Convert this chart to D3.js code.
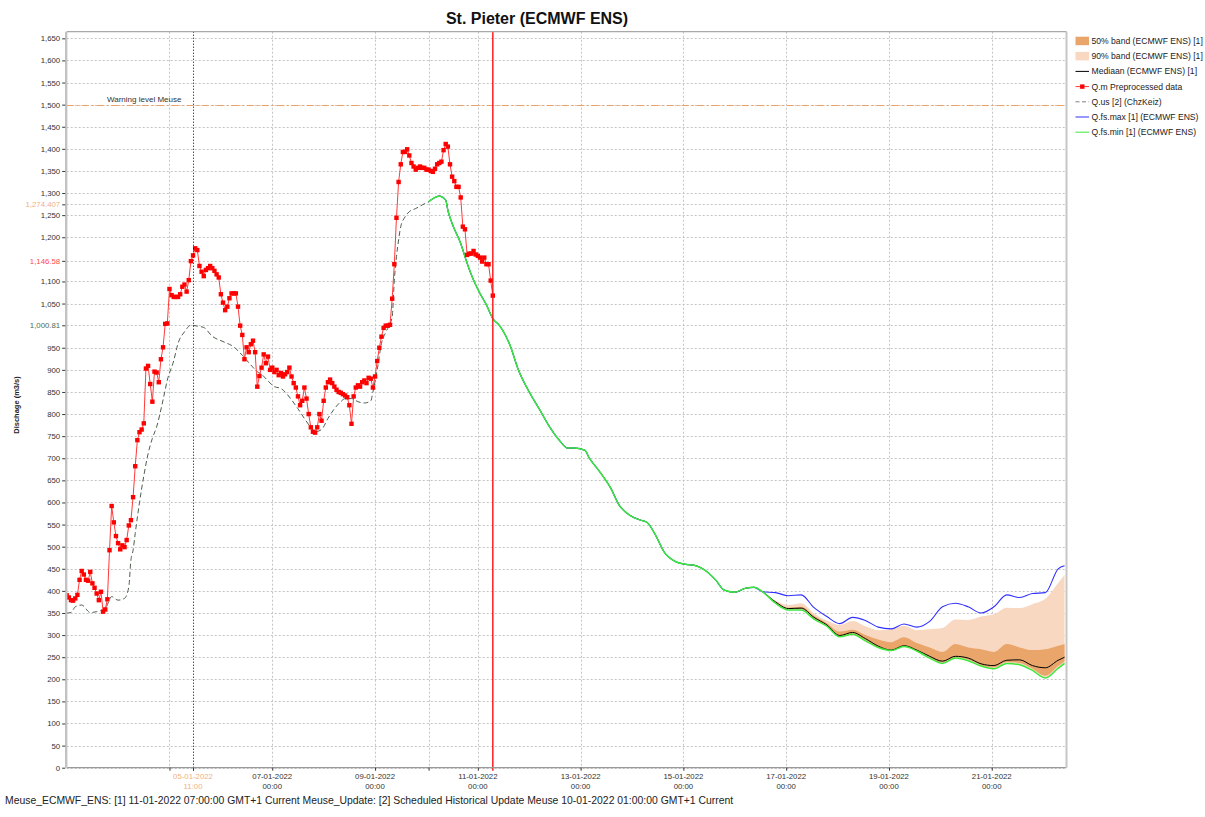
<!DOCTYPE html>
<html>
<head>
    <meta http-equiv="content-type" content="text/html; charset=utf-8"/>
    <title>St. Pieter (ECMWF ENS)</title>
    <style type="text/css">
        body, html {width:100%;height:100%;overflow:hidden;margin:0;background:#fff;}
        svg text {font-family:"Liberation Sans", Arial, sans-serif;}
    </style>
    <script src="https://cdn.jsdelivr.net/npm/d3@7/dist/d3.min.js"></script>
</head>
<body>
<svg id="chart" width="1205" height="817"></svg>
<script>
// weergaveperiode en tijdstippen (GMT+1)
var viewStart = "2022-01-03T00:00";
var viewEnd = "2022-01-22T11:00";
var forecastT0 = "2022-01-11T07:00";
var cursorTime = "2022-01-05T11:00";
var updateTime = "2022-01-10T01:00";

var xTickDates = ["2022-01-05T00:00", "2022-01-07T00:00", "2022-01-09T00:00", "2022-01-11T00:00",
    "2022-01-13T00:00", "2022-01-15T00:00", "2022-01-17T00:00", "2022-01-19T00:00", "2022-01-21T00:00"];
var yTickValues = [0, 50, 100, 150, 200, 250, 300, 350, 400, 450, 500, 550, 600, 650, 700, 750, 800, 850,
    900, 950, 1000, 1050, 1100, 1150, 1200, 1250, 1300, 1350, 1400, 1450, 1500, 1550, 1600, 1650];
var yMarkValues = [1274.407, 1146.58, 1000.81];
var warningLevel = 1500;
var warningLabel = "Warning level Meuse";

// Q.m: uurwaarden vanaf viewStart
var qmValues = [390, 385, 379, 378, 383, 391, 425, 445, 437, 425, 423, 443, 417, 407, 394, 379, 398, 353, 358, 381,
    492, 592, 555, 524, 508, 494, 503, 499, 515, 548, 560, 612, 682, 741, 759,
    765, 779, 903, 909, 868, 828, 896, 894, 872, 924, 951, 1004, 1005, 1083, 1069, 1065, 1065, 1065, 1071, 1088,
    1093, 1077, 1103, 1146, 1159, 1175, 1171, 1135, 1122, 1112, 1126, 1130, 1135, 1130, 1124, 1116, 1109, 1071,
    1052, 1035, 1043, 1062, 1073, 1073, 1073, 1043, 1000, 979, 924, 951, 940, 958, 966, 940, 862, 886,
    905, 935, 915, 930, 900, 905, 895, 900, 888, 893, 885, 890, 895, 905, 885, 870, 860, 840, 820, 830,
    860, 835, 800, 770, 760, 758, 770, 800, 785, 830, 860, 872, 878, 870, 862, 855, 850, 848, 845, 842,
    838, 820, 778, 840, 860, 865, 862, 872, 876, 870, 882, 880, 860, 885, 920, 950, 975, 995, 1000, 1000, 1002,
    1061, 1139, 1244, 1325, 1365, 1393, 1393, 1399, 1385, 1368, 1360, 1353, 1357, 1360, 1357, 1357, 1353, 1353,
    1350, 1348, 1355, 1365, 1368, 1371, 1397, 1411, 1405, 1365, 1337, 1327, 1314, 1314, 1290, 1224, 1218, 1160,
    1163, 1163, 1169, 1161, 1158, 1154, 1145, 1154, 1139, 1139, 1102, 1068];

// Q.us (uren na viewStart)
var qusHours = [0, 2, 4, 7, 11, 14, 18, 21, 24, 27, 29, 30, 31, 32, 34, 36, 38, 40, 42, 45, 47, 50, 52, 55, 58,
    61, 64, 68, 73, 78, 82, 86, 89, 91, 94, 97, 100, 102, 105, 108, 111, 114, 116, 119, 122, 125, 128, 130, 133,
    136, 139, 142, 143, 145, 147, 149, 152, 153, 154, 155, 156, 158, 160, 163, 166, 169];
var qusValues = [350, 351, 364, 368, 351, 353, 360, 387, 379, 383, 409, 470, 492, 530, 600, 660, 710, 745, 771,
    832, 877, 921, 960, 986, 1001, 999, 996, 976, 964, 952, 933, 911, 896, 890, 875, 862, 858, 850, 832, 812,
    790, 770, 760, 765, 790, 812, 828, 835, 835, 828, 825, 830, 850, 900, 960, 985, 1020, 1103, 1156, 1194,
    1224, 1246, 1258, 1265, 1273, 1280];

// ensemble: gezamenlijk deel (alle leden gelijk)
var fcSharedHours = [169, 170, 172, 174, 177, 178, 180, 184, 187, 190, 193, 196, 199, 202, 207, 211, 216, 221,
    225, 230, 234, 237, 242, 244, 249, 254, 258, 263, 268, 271, 275, 279, 284, 289, 293, 298, 303, 307, 312,
    317, 321];
var fcSharedValues = [1280, 1284, 1290, 1293, 1284, 1261, 1231, 1186, 1141, 1103, 1073, 1047, 1016, 1001, 956,
    899, 850, 809, 775, 741, 723, 723, 718, 701, 669, 633, 594, 571, 560, 555, 526, 488, 467, 460, 458, 447,
    425, 402, 397, 406, 408];

// ensemble: uiteenlopend deel
var fcHours = [325, 331, 337, 343, 349, 355, 361, 367, 373, 379, 385, 391, 397, 403, 409, 415, 421, 427, 433,
    439, 445, 451, 457, 463, 466];
var fcMax = [398, 396, 389, 391, 362, 342, 326, 340, 333, 318, 314, 325, 318, 331, 364, 372, 364, 350, 364,
    391, 385, 394, 396, 450, 457];
var fcMedian = [398, 375, 360, 361, 340, 323, 299, 306, 292, 275, 266, 276, 266, 252, 241, 252, 248, 235, 231,
    243, 244, 231, 226, 243, 250];
var fcMin = [398, 372, 357, 357, 336, 320, 296, 302, 287, 272, 265, 274, 264, 248, 236, 248, 242, 230, 224,
    236, 233, 220, 203, 225, 236];
var band90Hi = [398, 378, 368, 372, 349, 333, 323, 332, 320, 311, 313, 321, 311, 313, 316, 335, 334, 342, 347,
    362, 361, 370, 382, 418, 436];
var band90Lo = [398, 373, 358, 358, 337, 321, 297, 303, 288, 273, 266, 275, 265, 249, 237, 249, 243, 231, 225,
    237, 234, 221, 204, 226, 237];
var band50Hi = [398, 376, 362, 364, 344, 327, 308, 312, 300, 290, 284, 295, 282, 272, 262, 280, 272, 268, 262,
    280, 272, 266, 268, 276, 280];
var band50Lo = [398, 374, 359, 359, 338, 321, 297, 300, 289, 273, 265, 275, 265, 250, 238, 250, 245, 232, 227,
    239, 237, 224, 208, 230, 240];

var legendLabels = ["50% band (ECMWF ENS) [1]", "90% band (ECMWF ENS) [1]", "Mediaan (ECMWF ENS) [1]",
    "Q.m Preprocessed data", "Q.us [2] (ChzKeiz)", "Q.fs.max [1] (ECMWF ENS)", "Q.fs.min [1] (ECMWF ENS)"];
var chartTitle = "St. Pieter (ECMWF ENS)";
var yTitle = "Dischage (m3/s)";
var footerText = "Meuse_ECMWF_ENS: [1] 11-01-2022 07:00:00 GMT+1 Current Meuse_Update: [2] Scheduled Historical Update Meuse 10-01-2022 01:00:00 GMT+1 Current";

var L = 66.7, R = 1066.5, T = 31.7, B = 767.7;
var svg = d3.select("#chart");
var parse = d3.utcParse("%Y-%m-%dT%H:%M");
var start = parse(viewStart);
function at(h) { return d3.utcHour.offset(start, h); }

var x = d3.scaleUtc().domain([start, parse(viewEnd)]).range([L, 1066.7]);
var y = d3.scaleLinear().domain([0, 1665]).range([B, T]);

var qm = qmValues.map(function (v, i) { return {t: at(i), v: v}; });
var qus = qusHours.map(function (h, i) { return {t: at(h), v: qusValues[i]}; });
var shared = fcSharedHours.map(function (h, i) { return {t: at(h), v: fcSharedValues[i]}; });
function fcSeries(vals) {
    return shared.concat(fcHours.map(function (h, i) { return {t: at(h), v: vals[i]}; }));
}
function band(lo, hi) {
    return fcHours.map(function (h, i) { return {t: at(h), lo: lo[i], hi: hi[i]}; });
}

svg.append("clipPath").attr("id", "plotclip").append("rect")
    .attr("x", L).attr("y", T).attr("width", R - L).attr("height", B - T);

// rasterlijnen
var yVisible = yTickValues.filter(function (v) {
    return yMarkValues.every(function (m) { return Math.abs(m - v) > 12; });
});
var grid = svg.append("g").attr("stroke", "#c4c4c4").attr("stroke-dasharray", "2,2").attr("stroke-width", 1);
grid.selectAll("line.h").data(yVisible.concat(yMarkValues)).enter().append("line")
    .attr("x1", L).attr("x2", R)
    .attr("y1", function (d) { return Math.round(y(d)) + 0.5; })
    .attr("y2", function (d) { return Math.round(y(d)) + 0.5; });
var xGridDates = xTickDates.concat([updateTime]).map(parse);
grid.selectAll("line.v").data(xGridDates).enter().append("line")
    .attr("y1", T).attr("y2", B)
    .attr("x1", function (d) { return Math.round(x(d)) + 0.5; })
    .attr("x2", function (d) { return Math.round(x(d)) + 0.5; });

var plot = svg.append("g").attr("clip-path", "url(#plotclip)");

// waarschuwingsniveau
plot.append("line").attr("x1", L).attr("x2", R)
    .attr("y1", Math.round(y(warningLevel)) + 0.5).attr("y2", Math.round(y(warningLevel)) + 0.5)
    .attr("stroke", "#eba064").attr("stroke-width", 1).attr("stroke-dasharray", "7,3,2,3");
svg.append("text").attr("x", 107).attr("y", y(warningLevel) - 2.2)
    .attr("font-size", 8).attr("fill", "#333").text(warningLabel);

var area = d3.area().curve(d3.curveMonotoneX).x(function (d) { return x(d.t); })
    .y0(function (d) { return y(d.lo); }).y1(function (d) { return y(d.hi); });
var smooth = d3.line().curve(d3.curveMonotoneX).x(function (d) { return x(d.t); }).y(function (d) { return y(d.v); });
var line = d3.line().x(function (d) { return x(d.t); }).y(function (d) { return y(d.v); });

plot.append("path").datum(band(band90Lo, band90Hi)).attr("d", area).attr("fill", "#f8d8c0");
plot.append("path").datum(band(band50Lo, band50Hi)).attr("d", area).attr("fill", "#eaa56b");

plot.append("path").datum(qus).attr("d", smooth).attr("fill", "none")
    .attr("stroke", "#4d5e4d").attr("stroke-width", 1).attr("stroke-dasharray", "5,3");

plot.append("path").datum(fcSeries(fcMedian)).attr("d", smooth).attr("fill", "none")
    .attr("stroke", "#000").attr("stroke-width", 1);
plot.append("path").datum(fcSeries(fcMax)).attr("d", smooth).attr("fill", "none")
    .attr("stroke", "#3030ff").attr("stroke-width", 1.1);
plot.append("path").datum(fcSeries(fcMin)).attr("d", smooth).attr("fill", "none")
    .attr("stroke", "#3ce83c").attr("stroke-width", 1.5);

plot.append("path").datum(qm).attr("d", line).attr("fill", "none")
    .attr("stroke", "#ff3a3a").attr("stroke-width", 1);
plot.selectAll("rect.qm").data(qm).enter().append("rect")
    .attr("x", function (d) { return x(d.t) - 2.2; })
    .attr("y", function (d) { return y(d.v) - 2.2; })
    .attr("width", 4.4).attr("height", 4.4).attr("fill", "#ff0000");

// cursor en T0
var xc = Math.round(x(parse(cursorTime))) + 0.5;
svg.append("line").attr("x1", xc).attr("x2", xc).attr("y1", T).attr("y2", B + 3)
    .attr("stroke", "#000").attr("stroke-dasharray", "1,2");
var xT0 = x(parse(forecastT0));
svg.append("line").attr("x1", xT0).attr("x2", xT0).attr("y1", T).attr("y2", B + 3)
    .style("stroke", "#ff1010").style("stroke-width", "1.4px");

// kader
svg.append("line").attr("x1", L).attr("x2", R).attr("y1", T).attr("y2", T).attr("stroke", "#a8a8a8").attr("stroke-width", 1.2);
svg.append("line").attr("x1", L).attr("x2", R).attr("y1", B).attr("y2", B).attr("stroke", "#9a9a9a").attr("stroke-width", 1.3);
svg.append("line").attr("x1", L - 0.5).attr("x2", L - 0.5).attr("y1", T).attr("y2", B).attr("stroke", "#c2c2c2").attr("stroke-width", 2.4);
svg.append("line").attr("x1", R).attr("x2", R).attr("y1", T).attr("y2", B).attr("stroke", "#c6c6c6").attr("stroke-width", 2);

// y-as
var fmt = d3.format(",");
var yAxis = svg.append("g").attr("transform", "translate(" + (L - 1.5) + ",0)")
    .call(d3.axisLeft(y).tickValues(yVisible).tickFormat(fmt).tickSize(3).tickPadding(2));
var yMarkAxis = svg.append("g").attr("transform", "translate(" + (L - 1.5) + ",0)")
    .call(d3.axisLeft(y).tickValues(yMarkValues).tickFormat(fmt).tickSize(3).tickPadding(2));
[yAxis, yMarkAxis].forEach(function (g) {
    g.select(".domain").remove();
    g.selectAll(".tick line").attr("stroke", "#333");
    g.selectAll(".tick text").attr("font-size", 7.8).attr("fill", "#333")
        .style("font-family", "'Liberation Sans', Arial, sans-serif");
});
var markColors = ["#f2b184", "#ff4b4b", "#4f6a4f"];
yMarkAxis.selectAll(".tick text").attr("fill", function (d, i) { return markColors[i]; });

svg.append("text").attr("transform", "translate(19," + 405 + ") rotate(-90)")
    .attr("text-anchor", "middle").attr("font-size", 7.5).attr("font-weight", "bold")
    .attr("fill", "#222").text(yTitle);

// x-as
var xTicks = xTickDates.map(parse).concat([parse(cursorTime), parse(updateTime)]);
var xAxis = svg.append("g").attr("transform", "translate(0," + B + ")")
    .call(d3.axisBottom(x).tickValues(xTicks).tickFormat("").tickSize(3));
xAxis.select(".domain").remove();
xAxis.selectAll(".tick line").attr("stroke", "#333");

var fDay = d3.utcFormat("%d-%m-%Y"), fHour = d3.utcFormat("%H:%M");
var cursorX = x(parse(cursorTime));
var labelDates = xTickDates.map(parse).filter(function (d) { return Math.abs(x(d) - cursorX) > 40; });
function tickLabel(d, color) {
    var t = svg.append("text").attr("text-anchor", "middle").attr("font-size", 7.8).attr("fill", color);
    t.append("tspan").attr("x", x(d)).attr("y", 778.5).text(fDay(d));
    t.append("tspan").attr("x", x(d)).attr("y", 789).text(fHour(d));
}
labelDates.forEach(function (d) { tickLabel(d, "#333"); });
tickLabel(parse(cursorTime), "#f2b184");

// titel en voetregel
svg.append("text").attr("x", 537).attr("y", 24).attr("text-anchor", "middle")
    .attr("font-size", 16).attr("font-weight", "bold").attr("fill", "#111").text(chartTitle);
svg.append("text").attr("x", 5).attr("y", 804).attr("font-size", 10.4).attr("fill", "#222").text(footerText);

// legenda
var lg = svg.append("g").attr("transform", "translate(1075.5,0)");
legendLabels.forEach(function (label, i) {
    var cy = 41 + i * 15.2;
    var row = lg.append("g");
    if (i === 0) row.append("rect").attr("x", 0).attr("y", cy - 4.3).attr("width", 13.5).attr("height", 8.5).attr("fill", "#eaa56b");
    if (i === 1) row.append("rect").attr("x", 0).attr("y", cy - 4.3).attr("width", 13.5).attr("height", 8.5).attr("fill", "#f8d8c0");
    if (i === 2) row.append("line").attr("x1", 0).attr("x2", 13.5).attr("y1", cy).attr("y2", cy).attr("stroke", "#000");
    if (i === 3) {
        row.append("line").attr("x1", 0).attr("x2", 13.5).attr("y1", cy).attr("y2", cy).attr("stroke", "#ff3a3a");
        row.append("rect").attr("x", 4.6).attr("y", cy - 2.2).attr("width", 4.4).attr("height", 4.4).attr("fill", "#ff0000");
    }
    if (i === 4) row.append("line").attr("x1", 0).attr("x2", 13.5).attr("y1", cy).attr("y2", cy)
        .attr("stroke", "#7a847a").attr("stroke-dasharray", "4,2.5");
    if (i === 5) row.append("line").attr("x1", 0).attr("x2", 13.5).attr("y1", cy).attr("y2", cy).attr("stroke", "#3030ff");
    if (i === 6) row.append("line").attr("x1", 0).attr("x2", 13.5).attr("y1", cy).attr("y2", cy).attr("stroke", "#3ce83c");
    row.append("text").attr("x", 16).attr("y", cy + 3).attr("font-size", 8.6).attr("fill", "#222").text(label);
});
</script>
</body>
</html>
